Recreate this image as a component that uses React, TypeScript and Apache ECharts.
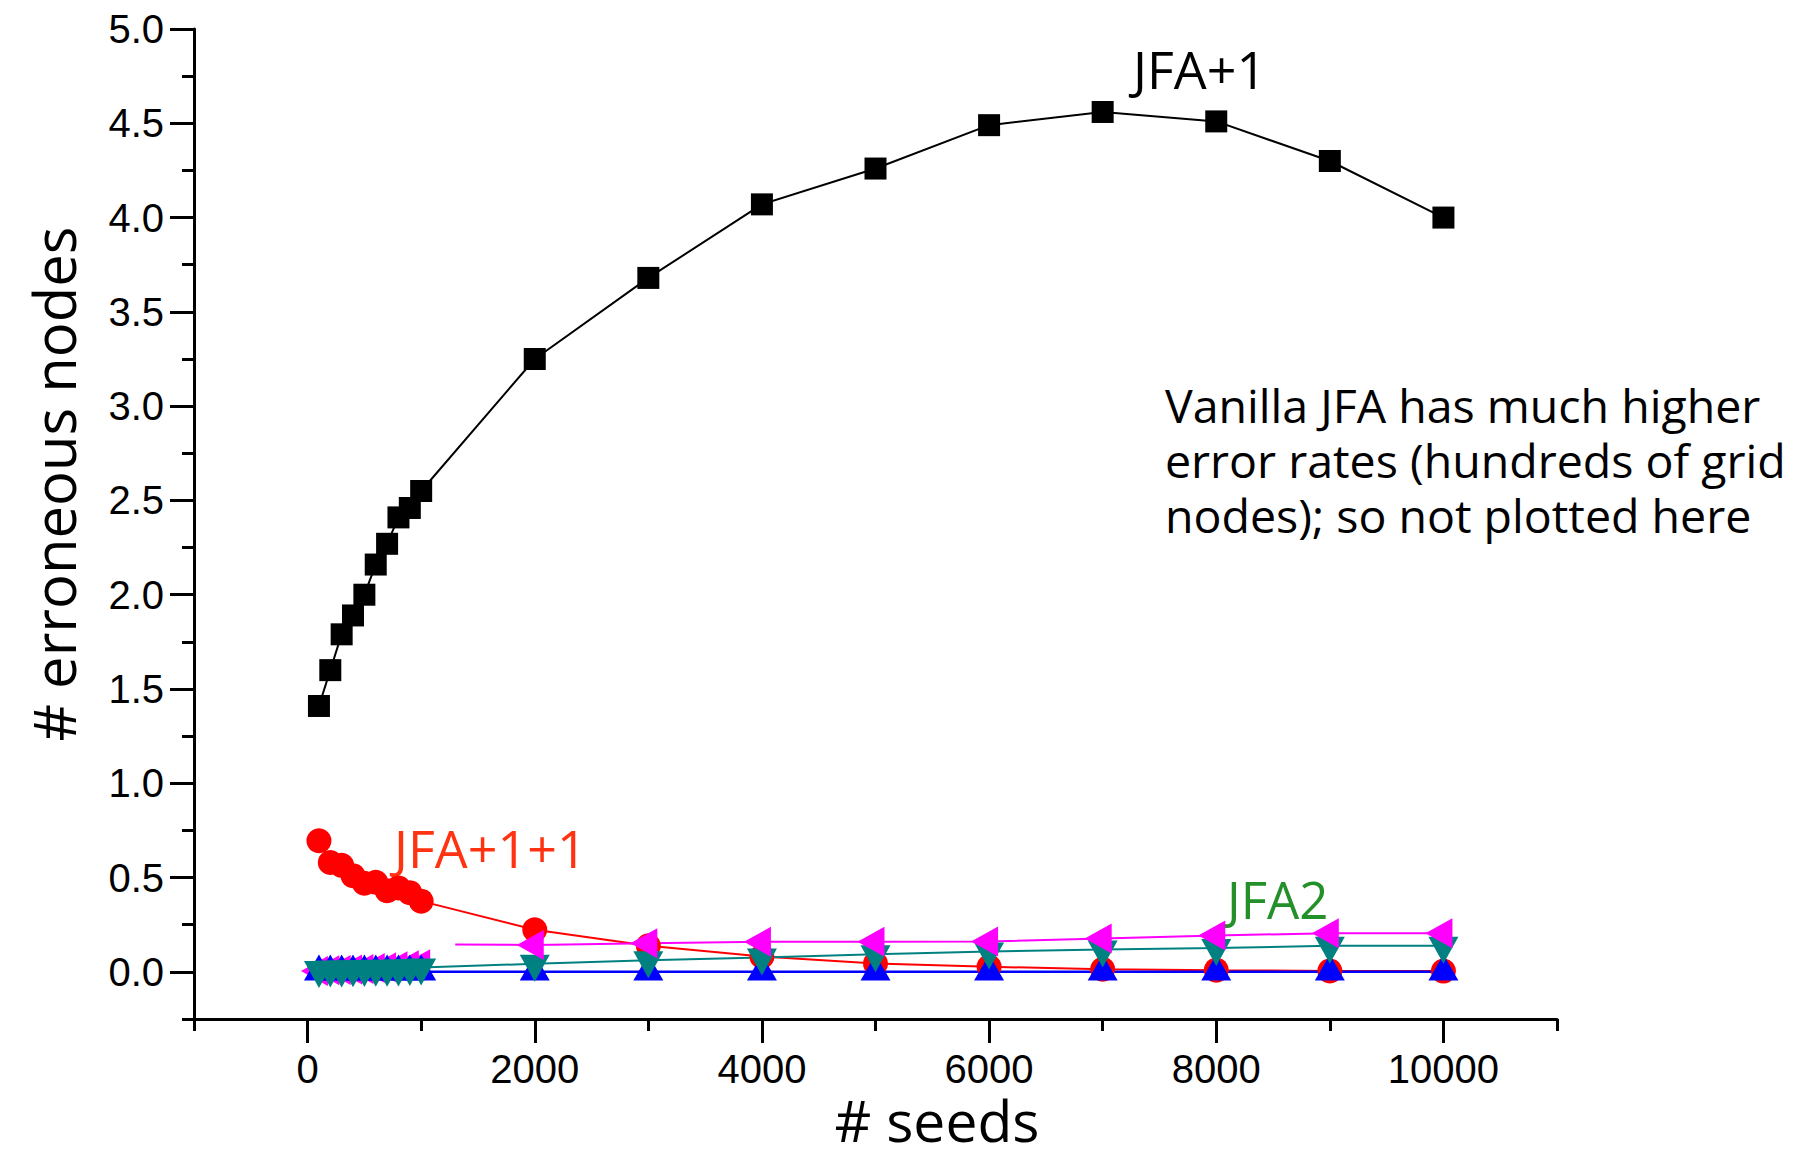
import React, { useEffect, useRef } from "react";
import * as echarts from "echarts";

// ---- data ----
const seedsX = [100, 200, 300, 400, 500, 600, 700, 800, 900, 1000, 2000, 3000, 4000, 5000, 6000, 7000, 8000, 9000, 10000];
const jfaPlus1 = [1.41, 1.6, 1.79, 1.89, 2.0, 2.16, 2.27, 2.41, 2.46, 2.55, 3.25, 3.68, 4.07, 4.26, 4.49, 4.56, 4.51, 4.3, 4.0];
const jfaPlus1Plus1 = [0.695, 0.58, 0.565, 0.51, 0.47, 0.475, 0.43, 0.445, 0.42, 0.375, 0.223, 0.138, 0.081, 0.044, 0.027, 0.014, 0.009, 0.005, 0.004];
const blueSeries = [0, 0, 0, 0, 0, 0, 0, 0, 0, 0, 0, 0, 0, 0, 0, 0, 0, 0, 0];
const jfa2 = [0.01, 0.012, 0.013, 0.014, 0.015, 0.016, 0.017, 0.018, 0.02, 0.023, 0.043, 0.062, 0.076, 0.094, 0.108, 0.118, 0.127, 0.138, 0.138];
const magentaLowX = [100, 200, 300, 400, 500, 600, 700, 800, 900, 1000];
const magentaLow = [0.005, 0.008, 0.01, 0.012, 0.015, 0.02, 0.025, 0.03, 0.035, 0.04];
const magentaHighX = [2000, 3000, 4000, 5000, 6000, 7000, 8000, 9000, 10000];
const magentaHigh = [0.143, 0.152, 0.159, 0.159, 0.161, 0.177, 0.193, 0.205, 0.205];
const magentaLineStart = [1300, 0.145];

const xMajorTicks = [0, 2000, 4000, 6000, 8000, 10000];
const yMajorTicks = [0, 0.5, 1.0, 1.5, 2.0, 2.5, 3.0, 3.5, 4.0, 4.5, 5.0];
const noteLines = [
  "Vanilla JFA has much higher",
  "error rates (hundreds of grid",
  "nodes); so not plotted here",
];

const X_MIN = -1000;
const X_MAX = 11000;
const Y_MIN = -0.25;
const Y_MAX = 5.0;

const zip = (xs: number[], ys: number[]) => xs.map((x, i) => [x, ys[i]]);

const TITLE_FONT = "Open Sans";
const TICK_FONT = "Liberation Sans";

// triangle sizes [base, height]; offsets put the triangle's centroid on the data point
const BLUE_TRI = [30, 26];
const TEAL_TRI = [30, 27];
const MAG_TRI = [30, 27];

export default function App() {
  const ref = useRef<HTMLDivElement>(null);

  useEffect(() => {
    if (!ref.current) return;
    const chart = echarts.init(ref.current, undefined, { renderer: "svg" });

    const axisLineStyle = { color: "#000", width: 3 };
    const tickLabel = { fontFamily: TICK_FONT, fontSize: 40, color: "#000" };

    const magentaCommon = {
      type: "line",
      symbol: "triangle",
      symbolRotate: 90,
      symbolSize: MAG_TRI,
      symbolOffset: [-MAG_TRI[1] / 6, 0],
      lineStyle: { color: "#ff00ff", width: 2 },
      itemStyle: { color: "#ff00ff" },
    };

    const option: any = {
      animation: false,
      backgroundColor: "#fff",
      grid: { left: 194, right: 262, top: 29, bottom: 134, containLabel: false },
      xAxis: [
        {
          type: "value",
          min: X_MIN,
          max: X_MAX,
          interval: 1000,
          position: "bottom",
          axisLine: { show: true, onZero: false, lineStyle: axisLineStyle },
          axisTick: { show: true, inside: false, length: 12, lineStyle: axisLineStyle },
          axisLabel: { show: false },
          splitLine: { show: false },
        },
        {
          type: "value",
          min: X_MIN,
          max: X_MAX,
          position: "bottom",
          offset: 0,
          axisLine: { show: false, onZero: false },
          axisTick: { show: true, inside: false, length: 24, customValues: xMajorTicks, lineStyle: axisLineStyle },
          axisLabel: {
            show: true,
            margin: 30,
            customValues: xMajorTicks,
            formatter: (v: number) => String(v),
            ...tickLabel,
          },
          splitLine: { show: false },
        },
      ],
      yAxis: [
        {
          type: "value",
          min: Y_MIN,
          max: Y_MAX,
          interval: 0.25,
          position: "left",
          axisLine: { show: true, onZero: false, lineStyle: axisLineStyle },
          axisTick: { show: true, inside: false, length: 12, lineStyle: axisLineStyle },
          axisLabel: { show: false },
          splitLine: { show: false },
        },
        {
          type: "value",
          min: Y_MIN,
          max: Y_MAX,
          position: "left",
          offset: 0,
          axisLine: { show: false, onZero: false },
          axisTick: { show: true, inside: false, length: 24, customValues: yMajorTicks, lineStyle: axisLineStyle },
          axisLabel: {
            show: true,
            margin: 30,
            customValues: yMajorTicks,
            formatter: (v: number) => v.toFixed(1),
            ...tickLabel,
          },
          splitLine: { show: false },
        },
      ],
      series: [
        {
          name: "JFA+1",
          type: "line",
          data: zip(seedsX, jfaPlus1),
          symbol: "rect",
          symbolSize: 22,
          lineStyle: { color: "#000", width: 2 },
          itemStyle: { color: "#000" },
        },
        {
          name: "JFA+1+1",
          type: "line",
          data: zip(seedsX, jfaPlus1Plus1),
          symbol: "circle",
          symbolSize: 25,
          lineStyle: { color: "#ff0000", width: 2 },
          itemStyle: { color: "#ff0000" },
        },
        {
          name: "magenta-low",
          data: zip(magentaLowX, magentaLow),
          ...magentaCommon,
        },
        {
          name: "blue",
          type: "line",
          data: zip(seedsX, blueSeries),
          symbol: "triangle",
          symbolSize: BLUE_TRI,
          symbolOffset: [0, -BLUE_TRI[1] / 6],
          lineStyle: { color: "#0000ff", width: 2.5 },
          itemStyle: { color: "#0000ff" },
        },
        {
          name: "JFA2",
          type: "line",
          data: zip(seedsX, jfa2),
          symbol: "triangle",
          symbolRotate: 180,
          symbolSize: TEAL_TRI,
          symbolOffset: [0, TEAL_TRI[1] / 6],
          lineStyle: { color: "#008080", width: 2 },
          itemStyle: { color: "#008080" },
        },
        {
          name: "magenta-high",
          data: [
            { value: magentaLineStart, symbol: "none" },
            ...zip(magentaHighX, magentaHigh),
          ],
          ...magentaCommon,
        },
      ],
      graphic: [
        {
          type: "text",
          x: 53,
          y: 484,
          rotation: Math.PI / 2,
          style: {
            text: "# erroneous nodes",
            fontFamily: TITLE_FONT,
            fontSize: 58,
            fill: "#000",
            align: "center",
            verticalAlign: "middle",
          },
        },
        {
          type: "text",
          x: 937,
          y: 1120,
          style: {
            text: "# seeds",
            fontFamily: TITLE_FONT,
            fontSize: 57,
            fill: "#000",
            align: "center",
            verticalAlign: "middle",
          },
        },
        {
          type: "text",
          x: 1133,
          y: 68,
          style: { text: "JFA+1", fontFamily: TITLE_FONT, fontSize: 52, fill: "#000", align: "left", verticalAlign: "middle" },
        },
        {
          type: "text",
          x: 394,
          y: 847,
          style: { text: "JFA+1+1", fontFamily: TITLE_FONT, fontSize: 52, fill: "#ff3311", align: "left", verticalAlign: "middle" },
        },
        {
          type: "text",
          x: 1227,
          y: 899,
          style: { text: "JFA2", fontFamily: TITLE_FONT, fontSize: 51, fill: "#23902a", align: "left", verticalAlign: "middle" },
        },
        ...noteLines.map((line, i) => ({
          type: "text",
          x: 1165,
          y: 405 + i * 55,
          style: {
            text: line,
            fontFamily: TITLE_FONT,
            fontSize: 46.5,
            fill: "#000",
            align: "left",
            verticalAlign: "middle",
          },
        })),
      ],
    };

    chart.setOption(option);
    return () => chart.dispose();
  }, []);

  return (
    <div
      ref={ref}
      style={{ position: "absolute", left: 0, top: 0, width: 1819, height: 1153, background: "#fff" }}
    />
  );
}
